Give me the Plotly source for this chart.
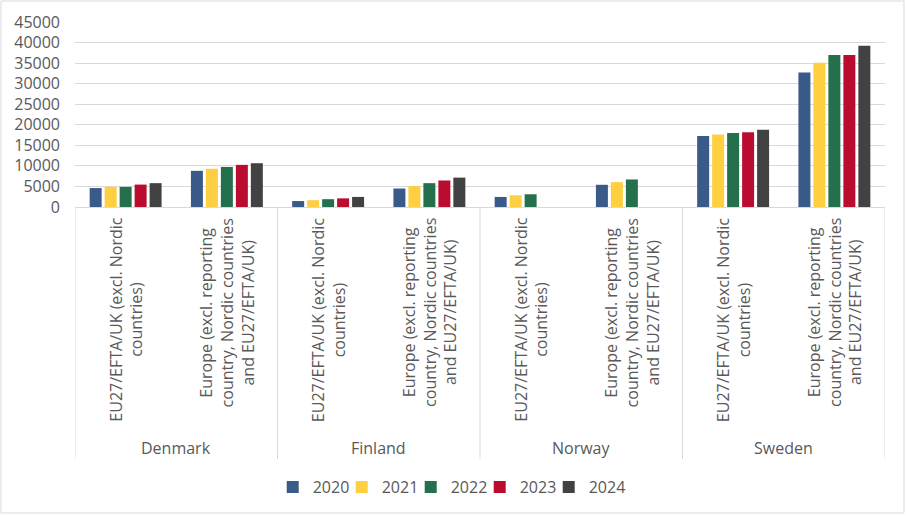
import plotly.graph_objects as go

# Data
countries = ["Denmark", "Finland", "Norway", "Sweden"]
regions = [
    "EU27/EFTA/UK (excl. Nordic<br>countries)",
    "Europe (excl. reporting<br>country, Nordic countries<br>and EU27/EFTA/UK)",
]
years = ["2020", "2021", "2022", "2023", "2024"]

# values per year, in order DK-EU, DK-EUR, FI-EU, FI-EUR, NO-EU, NO-EUR, SE-EU, SE-EUR
v2020 = [4600, 8800, 1450, 4500, 2450, 5400, 17300, 32700]
v2021 = [4900, 9300, 1650, 5100, 2850, 6050, 17650, 35100]
v2022 = [4900, 9750, 1900, 5800, 3100, 6700, 18000, 37000]
v2023 = [5450, 10250, 2100, 6450, None, None, 18200, 37000]
v2024 = [5800, 10650, 2450, 7150, None, None, 18800, 39200]

colors = ["#3A5A8A", "#FDCF41", "#24704D", "#BA0C2F", "#424242"]

# one category per (country, region) pair
cats = [f"{c} | {r}" for c in countries for r in regions]

FONT = "Open Sans"
GREY = "#595959"

fig = go.Figure()
series = [v2020, v2021, v2022, v2023, v2024]
for n, (year, vals, col) in enumerate(zip(years, series, colors)):
    # keep legend entries tight, but give the last one room for its text
    fig.add_trace(go.Bar(x=cats, y=vals, name=year, marker_color=col,
                         marker_line_width=0,
                         legendwidth=45 if n == len(years) - 1 else 24))

annotations = []
# rotated region labels under each group
for i, cat in enumerate(cats):
    region = regions[i % 2]
    annotations.append(dict(
        x=i, y=0, xref="x", yref="paper", text=region, showarrow=False,
        textangle=-90, yanchor="top", xanchor="center", yshift=-9, align="center",
        font=dict(family=FONT, size=16, color=GREY)))
# country labels
for j, c in enumerate(countries):
    annotations.append(dict(
        x=2 * j + 0.5, y=0, xref="x", yref="paper", text=c, showarrow=False,
        yanchor="middle", yshift=-241, font=dict(family=FONT, size=16, color=GREY)))

shapes = []
# group dividers below the axis
for k in range(len(countries) + 1):
    shapes.append(dict(type="line", xref="x", yref="paper", x0=2 * k - 0.5, x1=2 * k - 0.5,
                       y0=0, y1=-252 / 185, line=dict(color="#D9D9D9", width=1)))
# outer chart border
shapes.append(dict(type="rect", xref="paper", yref="paper",
                   x0=-74 / 810, x1=1 + 19 / 810, y0=-306 / 185, y1=1 + 21 / 185,
                   line=dict(color="#D9D9D9", width=1)))

fig.update_layout(
    width=906, height=516,
    margin=dict(l=75, r=21, t=22, b=309),
    plot_bgcolor="white", paper_bgcolor="white",
    barmode="group", bargap=0.26, bargroupgap=0.2,
    font=dict(family=FONT, size=16, color=GREY),
    xaxis=dict(showticklabels=False, showgrid=False, showline=True, linecolor="#D9D9D9",
               ticks="", range=[-0.5, 7.5]),
    yaxis=dict(range=[0, 45000], dtick=5000, showgrid=True, gridcolor="#D9D9D9",
               zeroline=False, ticks="", tickformat="d", ticklabelstandoff=14,
               tickfont=dict(family=FONT, size=16, color=GREY)),
    legend=dict(orientation="h", xref="container", yref="container", x=0.503, y=1 - 487 / 516,
                xanchor="center", yanchor="middle", font=dict(family=FONT, size=16, color=GREY),
                itemwidth=30, traceorder="normal"),
    annotations=annotations,
    shapes=shapes,
)

# the page body has an 8px default margin; drop it so the figure sits at 0,0
fig.write_html("out.html", config={"displayModeBar": False},
               post_script="document.body.style.margin='0';")
